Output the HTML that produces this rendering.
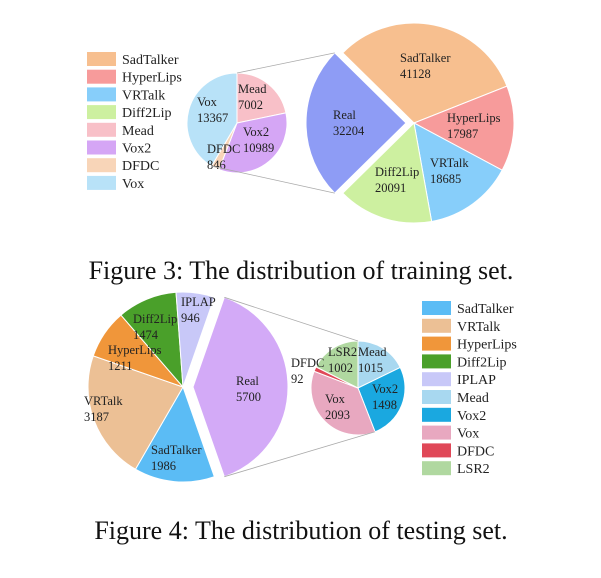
<!DOCTYPE html>
<html><head><meta charset="utf-8"><style>
html,body{margin:0;padding:0;background:#fff;}
svg{display:block;font-family:"Liberation Serif",serif;}
</style></head><body>
<svg id="fig" width="601" height="578" viewBox="0 0 601 578">
<text x="301" y="279" font-size="26" text-anchor="middle" fill="#111">Figure 3: The distribution of training set.</text>
<text x="301" y="539" font-size="26" text-anchor="middle" fill="#111">Figure 4: The distribution of testing set.</text>
</svg>
<script>
// Figure 3 (training) data
const trainMainLabels = ["Real","SadTalker","HyperLips","VRTalk","Diff2Lip"];
const trainMainValues = [32204,41128,17987,18685,20091];
const trainSubLabels = ["Mead","Vox2","DFDC","Vox"];
const trainSubValues = [7002,10989,846,13367];
const trainLegend = ["SadTalker","HyperLips","VRTalk","Diff2Lip","Mead","Vox2","DFDC","Vox"];
// Figure 4 (testing) data
const testMainLabels = ["Real","SadTalker","VRTalk","HyperLips","Diff2Lip","IPLAP"];
const testMainValues = [5700,1986,3187,1211,1474,946];
const testSubLabels = ["Mead","Vox2","Vox","DFDC","LSR2"];
const testSubValues = [1015,1498,2093,92,1002];
const testLegend = ["SadTalker","VRTalk","HyperLips","Diff2Lip","IPLAP","Mead","Vox2","Vox","DFDC","LSR2"];

const col3 = {SadTalker:"#f7bf8f",HyperLips:"#f79b9b",VRTalk:"#87cefa",Diff2Lip:"#cdf0a0",Real:"#8e9cf5",Mead:"#f8c0c8",Vox2:"#d5a6f5",DFDC:"#f8d5b8",Vox:"#b8e2f8"};
const col4 = {SadTalker:"#5bbcf5",VRTalk:"#ecc095",HyperLips:"#f0963a",Diff2Lip:"#4aa02a",IPLAP:"#c8c8f8",Real:"#d3aaf7",Mead:"#a8d8f0",Vox2:"#1aa8e0",Vox:"#e8a8c0",DFDC:"#e04858",LSR2:"#b0d8a0"};

// label placement (style only): offset of first-line baseline from pie centre
const lab3 = {Real:[-81,-4],SadTalker:[-14,-61],HyperLips:[33,-1],VRTalk:[16,44],Diff2Lip:[-39,53]};
const lab3s = {Mead:[1,-30],Vox2:[6,13],DFDC:[-30,30],Vox:[-40,-17]};
const lab4 = {Real:[53,-2],SadTalker:[-32,67],VRTalk:[-99,18],HyperLips:[-75,-33],Diff2Lip:[-50,-64],IPLAP:[-2,-81]};
const lab4s = {Mead:[0,-32],Vox2:[14,5],Vox:[-33,15],DFDC:[-67,-21],LSR2:[-30,-32]};

const NS="http://www.w3.org/2000/svg";
const svg=document.getElementById('fig');
function mk(t,a){const e=document.createElementNS(NS,t);for(const k in a)e.setAttribute(k,a[k]);svg.appendChild(e);return e;}
function pt(cx,cy,r,deg){const a=deg*Math.PI/180;return [cx+r*Math.cos(a),cy-r*Math.sin(a)];}
function arcPath(cx,cy,r,a0,a1){
  const p0=pt(cx,cy,r,a0),p1=pt(cx,cy,r,a1);const large=(a0-a1)>180?1:0;
  return `M${cx},${cy}L${p0[0]},${p0[1]}A${r},${r} 0 ${large} 1 ${p1[0]},${p1[1]}Z`;}

function pie(prefix,labels,values,colors,cx,cy,r,startDeg,explodeIdx,explode,fs,lab){
  const total=values.reduce((a,b)=>a+b,0);let a=startDeg;const edges=[];
  values.forEach((v,i)=>{
    const sweep=v/total*360;const a0=a,a1=a-sweep;const mid=(a0+a1)/2;
    let ox=0,oy=0;if(i===explodeIdx){const p=pt(0,0,explode,mid);ox=p[0];oy=p[1]-0;}
    const path=mk('path',{d:arcPath(cx+ox,cy+oy,r,a0,a1),fill:colors[labels[i]],stroke:"#fff","stroke-width":"1"});
    
    
    edges.push({a0,a1,ox,oy});
    a=a1;});
  values.forEach((v,i)=>{
    const o=lab[labels[i]]||[0,0];
    const t=mk('text',{x:cx+o[0],y:cy+o[1],"font-size":fs,fill:"#222"});
    
    
    t.textContent=labels[i];
    const t2=mk('text',{x:cx+o[0],y:cy+o[1]+16,"font-size":fs,fill:"#222"});
    
    
    t2.textContent=v;});
  return edges;}

function legend(prefix,items,colors,x,y,step){
  items.forEach((n,i)=>{
    const r=mk('rect',{x:x,y:y+i*step-7,width:29,height:14,fill:colors[n]});
    
    
    const t=mk('text',{x:x+35,y:y+i*step+5,"font-size":14,fill:"#222"});
    
    
    t.textContent=n;});}

// Figure 3
const t3Real=trainMainValues[0]/trainMainValues.reduce((a,b)=>a+b,0)*360;
const e3=pie('train',trainMainLabels,trainMainValues,col3,414,123,100,180+t3Real/2,0,8,12.5,lab3);
const e3s=pie('train-sub',trainSubLabels,trainSubValues,col3,237,123,50,90,-1,0,12.5,lab3s);
{const rt=pt(406,123,100,e3[0].a1),rb=pt(406,123,100,e3[0].a0);
 const st=pt(237,123,50,90);const sb=pt(237,123,50,e3s[2].a1);
 const l1=mk('line',{x1:st[0],y1:st[1],x2:rt[0],y2:rt[1],stroke:"#aaa","stroke-width":"0.8"});
 
 
 const l2=mk('line',{x1:sb[0],y1:sb[1],x2:rb[0],y2:rb[1],stroke:"#aaa","stroke-width":"0.8"});
 
 }
legend('train',trainLegend,col3,87,59,17.7);

// Figure 4
const t4Real=testMainValues[0]/testMainValues.reduce((a,b)=>a+b,0)*360;
const e4=pie('test',testMainLabels,testMainValues,col4,183,387,95,t4Real/2,0,10,12.5,lab4);
const e4s=pie('test-sub',testSubLabels,testSubValues,col4,358,388,47,90,-1,0,12.5,lab4s);
{const rt=pt(193,387,95,e4[0].a0),rb=pt(193,387,95,e4[0].a1);
 const st=pt(358,388,47,90);const sb=pt(358,388,47,e4s[1].a1);
 const l1=mk('line',{x1:rt[0],y1:rt[1],x2:st[0],y2:st[1],stroke:"#aaa","stroke-width":"0.8"});
 
 
 const l2=mk('line',{x1:rb[0],y1:rb[1],x2:sb[0],y2:sb[1],stroke:"#aaa","stroke-width":"0.8"});
 
 }
legend('test',testLegend,col4,422,308,17.8);
</script>
</body></html>
